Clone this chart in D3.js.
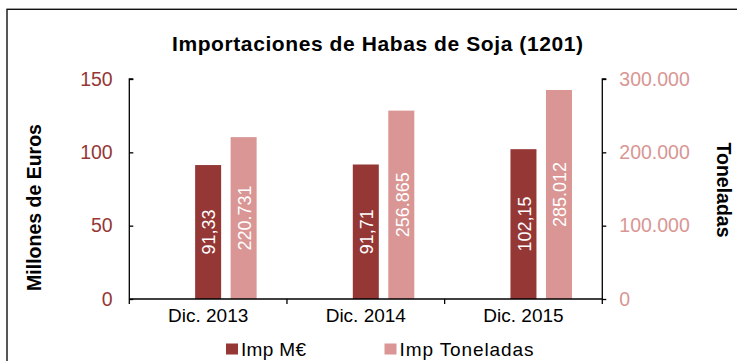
<!DOCTYPE html>
<html>
<head>
<meta charset="utf-8">
<script src="https://cdn.jsdelivr.net/npm/d3@7"></script>
<style>
  html, body { margin: 0; padding: 0; background: #fff; }
  svg { display: block; font-family: "Liberation Sans", Arial, sans-serif; }
</style>
</head>
<body>
<svg id="chart" width="737" height="361"></svg>
<script>
// Importaciones de habas de soja (partida 1201)
const categories = ["Dic. 2013", "Dic. 2014", "Dic. 2015"];
const impMillones = [91.33, 91.71, 102.15];        // millones de euros
const impToneladas = [220731, 256865, 285012];     // toneladas
const leftTicks = [0, 50, 100, 150];
const rightTicks = [0, 100000, 200000, 300000];
const seriesNames = ["Imp M€", "Imp Toneladas"];

const colDark = "#953735";
const colLight = "#D99694";

const es = d3.formatLocale({ decimal: ",", thousands: ".", grouping: [3], currency: ["", " €"] });
const fmtInt = es.format(",d");
const fmtDec = es.format(",.2f");

const svg = d3.select("#chart");

// marco del gráfico
svg.append("rect")
  .attr("x", 7).attr("y", 9.3)
  .attr("width", 800).attr("height", 400)
  .attr("fill", "#fff")
  .attr("stroke", "#111").attr("stroke-width", 1.4);

const plot = { left: 129.3, right: 602.3, top: 79, bottom: 299 };

const x = d3.scaleBand().domain(categories).range([plot.left, plot.right]).padding(0);
const yL = d3.scaleLinear().domain([0, 150]).range([plot.bottom, plot.top]);
const yR = d3.scaleLinear().domain([0, 300000]).range([plot.bottom, plot.top]);

const barW = 26;
const lightOffset = 35.5;

// título
svg.append("text")
  .attr("x", 377.5).attr("y", 50.5)
  .attr("text-anchor", "middle")
  .attr("font-weight", "bold").attr("font-size", 21)
  .attr("textLength", 411).attr("lengthAdjust", "spacing")
  .attr("fill", "#000")
  .text("Importaciones de Habas de Soja (1201)");

// barras en millones de euros
svg.append("g").selectAll("rect")
  .data(categories)
  .join("rect")
  .attr("x", (d) => x(d) + x.bandwidth() / 2 - barW / 2)
  .attr("y", (d, i) => yL(impMillones[i]))
  .attr("width", barW)
  .attr("height", (d, i) => yL(0) - yL(impMillones[i]))
  .attr("fill", colDark);

// barras en toneladas
svg.append("g").selectAll("rect")
  .data(categories)
  .join("rect")
  .attr("x", (d) => x(d) + x.bandwidth() / 2 + lightOffset - barW / 2)
  .attr("y", (d, i) => yR(impToneladas[i]))
  .attr("width", barW)
  .attr("height", (d, i) => yR(0) - yR(impToneladas[i]))
  .attr("fill", colLight);

// etiquetas de valor dentro de las barras
svg.append("g").selectAll("text")
  .data(categories)
  .join("text")
  .attr("transform", (d, i) => {
    const cx = x(d) + x.bandwidth() / 2 + 1;
    const cy = (yL(impMillones[i]) + yL(0)) / 2;
    return `translate(${cx},${cy}) rotate(-90)`;
  })
  .attr("text-anchor", "middle").attr("dy", "0.35em")
  .attr("font-size", 18).attr("fill", "#fff")
  .text((d, i) => fmtDec(impMillones[i]));

svg.append("g").selectAll("text")
  .data(categories)
  .join("text")
  .attr("transform", (d, i) => {
    const cx = x(d) + x.bandwidth() / 2 + lightOffset + 1;
    const cy = (yR(impToneladas[i]) + yR(0)) / 2;
    return `translate(${cx},${cy}) rotate(-90)`;
  })
  .attr("text-anchor", "middle").attr("dy", "0.35em")
  .attr("font-size", 18).attr("fill", "#fff")
  .text((d, i) => fmtInt(impToneladas[i]));

// eje izquierdo (marcas hacia dentro)
const axL = svg.append("g")
  .attr("transform", `translate(${plot.left},0)`)
  .call(d3.axisRight(yL).tickValues(leftTicks).tickSize(4).tickFormat(d3.format("d")));
axL.select(".domain").attr("stroke", "#000").attr("stroke-width", 1.3).attr("d", `M4,${plot.top}H0V${plot.bottom}`);
axL.selectAll(".tick line").attr("stroke", "#000").attr("stroke-width", 1.3);
axL.selectAll(".tick text")
  .attr("x", -16.6).attr("text-anchor", "end")
  .attr("font-size", 19.5).attr("fill", colDark)
  .attr("font-family", "Liberation Sans, Arial, sans-serif");

// eje derecho (marcas hacia fuera)
const axR = svg.append("g")
  .attr("transform", `translate(${plot.right},0)`)
  .call(d3.axisRight(yR).tickValues(rightTicks).tickSize(4).tickFormat(fmtInt));
axR.select(".domain").attr("stroke", "#000").attr("stroke-width", 1.3).attr("d", `M4,${plot.top}H0V${plot.bottom}`);
axR.selectAll(".tick line").attr("stroke", "#000").attr("stroke-width", 1.3);
axR.selectAll(".tick text")
  .attr("x", 17).attr("text-anchor", "start")
  .attr("font-size", 19.5).attr("fill", colLight)
  .attr("font-family", "Liberation Sans, Arial, sans-serif");

// eje de categorías
const axB = svg.append("g")
  .attr("transform", `translate(0,${plot.bottom})`)
  .call(d3.axisBottom(x).tickSize(0).tickPadding(0));
axB.select(".domain").attr("stroke", "#000").attr("stroke-width", 1.3).attr("d", `M${plot.left},0H${plot.right}`);
axB.selectAll(".tick text")
  .attr("y", 23).attr("dy", 0)
  .attr("font-size", 19).attr("fill", "#000")
  .attr("font-family", "Liberation Sans, Arial, sans-serif");
// separadores entre categorías
axB.append("g").selectAll("line")
  .data(categories.concat(["__end"]))
  .join("line")
  .attr("x1", (d, i) => i < categories.length ? x(d) : plot.right)
  .attr("x2", (d, i) => i < categories.length ? x(d) : plot.right)
  .attr("y1", 0).attr("y2", 5)
  .attr("stroke", "#000").attr("stroke-width", 1.3);

// títulos de ejes
svg.append("text")
  .attr("transform", "translate(40.5,207.5) rotate(-90)")
  .attr("text-anchor", "middle")
  .attr("font-weight", "bold").attr("font-size", 19.5).attr("fill", "#000")
  .text("Millones de Euros");

svg.append("text")
  .attr("transform", "translate(716.5,190) rotate(90)")
  .attr("text-anchor", "middle")
  .attr("font-weight", "bold").attr("font-size", 19.5).attr("fill", "#000")
  .text("Toneladas");

// leyenda
const legend = svg.append("g");
const legendItems = [
  { name: seriesNames[0], color: colDark, x: 226, w: 65 },
  { name: seriesNames[1], color: colLight, x: 384.5, w: 134 }
];
legendItems.forEach((it) => {
  legend.append("rect")
    .attr("x", it.x).attr("y", 343.5)
    .attr("width", 12).attr("height", 11)
    .attr("fill", it.color);
  legend.append("text")
    .attr("x", it.x + 15).attr("y", 356)
    .attr("font-size", 19).attr("fill", "#000")
    .attr("textLength", it.w).attr("lengthAdjust", "spacing")
    .text(it.name);
});
</script>
</body>
</html>
